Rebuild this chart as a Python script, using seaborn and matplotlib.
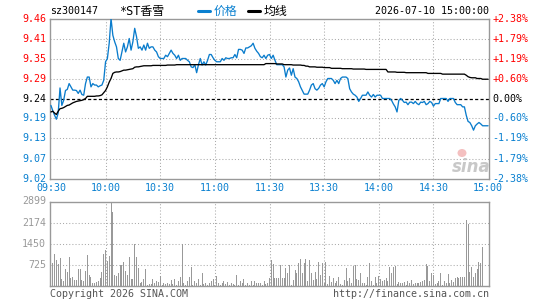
import numpy as np
import pandas as pd
import matplotlib
matplotlib.use("Agg")
import matplotlib.pyplot as plt
import seaborn as sns
from matplotlib.lines import Line2D
from matplotlib.patches import Ellipse
from matplotlib.transforms import blended_transform_factory

# ---------------- data ----------------
prev_close = 9.24
stock_code = "sz300147"
stock_name = "*ST香雪"
timestamp = "2026-07-10 15:00:00"

price = [
    9.221, 9.207, 9.194, 9.183, 9.200, 9.269, 9.221, 9.235, 9.262, 9.265,
    9.281, 9.272, 9.263, 9.263, 9.262, 9.254, 9.263, 9.251, 9.249, 9.281,
    9.299, 9.299, 9.272, 9.281, 9.277, 9.277, 9.272, 9.275, 9.277, 9.290,
    9.341, 9.350, 9.392, 9.460, 9.414, 9.396, 9.382, 9.350, 9.345, 9.368,
    9.392, 9.368, 9.382, 9.405, 9.373, 9.396, 9.433, 9.410, 9.378, 9.382,
    9.373, 9.387, 9.373, 9.392, 9.378, 9.382, 9.382, 9.373, 9.368, 9.355,
    9.350, 9.350, 9.350, 9.359, 9.355, 9.364, 9.373, 9.364, 9.359, 9.350,
    9.359, 9.345, 9.350, 9.350, 9.350, 9.345, 9.341, 9.327, 9.325, 9.333,
    9.311, 9.333, 9.350, 9.332, 9.341, 9.332, 9.345, 9.361, 9.361, 9.352,
    9.345, 9.341, 9.341, 9.341, 9.350, 9.345, 9.352, 9.350, 9.350, 9.352,
    9.352, 9.361, 9.352, 9.375, 9.375, 9.373, 9.364, 9.379, 9.379, 9.382,
    9.385, 9.392, 9.378, 9.370, 9.364, 9.355, 9.352, 9.359, 9.350, 9.359,
    9.361, 9.350, 9.359, 9.345, 9.333, 9.333, 9.333, 9.333, 9.327, 9.299,
    9.318, 9.324, 9.304, 9.322, 9.299, 9.295, 9.286, 9.272, 9.262, 9.252,
    9.252, 9.252, 9.263, 9.277, 9.281, 9.267, 9.263, 9.268, 9.277, 9.281,
    9.272, 9.286, 9.295, 9.295, 9.295, 9.290, 9.281, 9.290, 9.281, 9.295,
    9.299, 9.299, 9.299, 9.295, 9.267, 9.258, 9.252, 9.249, 9.244, 9.232,
    9.240, 9.249, 9.249, 9.249, 9.258, 9.249, 9.244, 9.251, 9.244, 9.249,
    9.249, 9.249, 9.240, 9.240, 9.240, 9.240, 9.240, 9.235, 9.225, 9.217,
    9.203, 9.235, 9.240, 9.235, 9.229, 9.230, 9.223, 9.230, 9.230, 9.226,
    9.232, 9.226, 9.223, 9.230, 9.229, 9.232, 9.223, 9.226, 9.232, 9.229,
    9.219, 9.226, 9.226, 9.226, 9.240, 9.240, 9.240, 9.240, 9.232, 9.240,
    9.240, 9.240, 9.229, 9.223, 9.223, 9.223, 9.217, 9.217, 9.194, 9.177,
    9.174, 9.165, 9.153, 9.165, 9.170, 9.174, 9.170, 9.165, 9.165, 9.165,
    9.165,
]

avg = [
    9.203, 9.205, 9.200, 9.196, 9.205, 9.212, 9.213, 9.215, 9.218, 9.221,
    9.222, 9.225, 9.228, 9.230, 9.232, 9.233, 9.234, 9.235, 9.237, 9.240,
    9.246, 9.246, 9.246, 9.246, 9.246, 9.247, 9.247, 9.248, 9.250, 9.256,
    9.262, 9.272, 9.285, 9.295, 9.309, 9.312, 9.313, 9.313, 9.314, 9.316,
    9.318, 9.318, 9.319, 9.320, 9.321, 9.322, 9.326, 9.327, 9.327, 9.328,
    9.329, 9.330, 9.330, 9.330, 9.330, 9.330, 9.331, 9.331, 9.331, 9.331,
    9.331, 9.331, 9.331, 9.331, 9.332, 9.332, 9.332, 9.332, 9.332, 9.333,
    9.333, 9.333, 9.333, 9.333, 9.333, 9.333, 9.333, 9.333, 9.333, 9.333,
    9.333, 9.333, 9.333, 9.333, 9.333, 9.333, 9.333, 9.333, 9.333, 9.333,
    9.333, 9.333, 9.333, 9.333, 9.333, 9.333, 9.333, 9.333, 9.333, 9.333,
    9.333, 9.333, 9.333, 9.333, 9.333, 9.333, 9.333, 9.333, 9.333, 9.333,
    9.333, 9.333, 9.333, 9.333, 9.333, 9.333, 9.333, 9.333, 9.336, 9.336,
    9.336, 9.336, 9.336, 9.336, 9.335, 9.335, 9.335, 9.335, 9.333, 9.333,
    9.333, 9.333, 9.333, 9.332, 9.332, 9.332, 9.332, 9.332, 9.331, 9.331,
    9.329, 9.329, 9.327, 9.327, 9.327, 9.327, 9.326, 9.326, 9.326, 9.326,
    9.325, 9.325, 9.325, 9.325, 9.323, 9.323, 9.323, 9.323, 9.323, 9.323,
    9.322, 9.322, 9.322, 9.322, 9.322, 9.322, 9.321, 9.321, 9.321, 9.321,
    9.321, 9.321, 9.321, 9.320, 9.320, 9.320, 9.320, 9.320, 9.320, 9.320,
    9.320, 9.320, 9.320, 9.320, 9.320, 9.313, 9.313, 9.313, 9.313, 9.313,
    9.312, 9.312, 9.312, 9.312, 9.312, 9.311, 9.311, 9.311, 9.311, 9.311,
    9.311, 9.311, 9.311, 9.311, 9.311, 9.311, 9.311, 9.309, 9.309, 9.309,
    9.309, 9.309, 9.309, 9.309, 9.309, 9.307, 9.307, 9.307, 9.307, 9.307,
    9.307, 9.307, 9.307, 9.307, 9.307, 9.307, 9.307, 9.307, 9.304, 9.300,
    9.298, 9.297, 9.297, 9.297, 9.295, 9.295, 9.295, 9.293, 9.293, 9.293,
    9.293,
]

volume = [
    368, 782, 1092, 897, 747, 966, 230, 172, 575, 483,
    1000, 276, 322, 195, 195, 575, 575, 207, 172, 517,
    1058, 368, 322, 92, 115, 138, 161, 287, 483, 1092,
    1242, 862, 1035, 2899, 2530, 368, 345, 437, 713, 713,
    828, 517, 368, 1012, 230, 253, 1437, 1012, 632, 115,
    138, 230, 598, 46, 69, 69, 230, 92, 172, 138,
    345, 46, 92, 58, 115, 69, 207, 69, 230, 46,
    172, 322, 1437, 115, 46, 172, 322, 655, 46, 172,
    115, 253, 46, 437, 58, 115, 46, 115, 172, 253,
    46, 345, 115, 46, 92, 161, 69, 138, 46, 115,
    69, 46, 368, 46, 172, 115, 253, 46, 115, 46,
    172, 46, 172, 92, 115, 115, 46, 172, 69, 115,
    287,
    897, 747, 287, 287, 287, 713, 287, 287, 632, 437,
    713, 46, 207, 552, 437, 782, 920, 437, 782, 943,
    172, 897, 437, 207, 483, 230, 828, 368, 782, 115,
    828, 69, 345, 138, 276, 115, 161, 322, 69, 46,
    207, 632, 172, 276, 115, 690, 713, 253, 207, 437,
    92, 115, 46, 322, 782, 172, 46, 322, 115, 345,
    230, 172, 207, 287, 172, 667, 437, 667, 690, 69,
    138, 115, 92, 138, 46, 172, 115, 207, 69, 92,
    92, 104, 138, 172, 207, 747, 690, 184, 437, 368,
    69, 115, 172, 437, 46, 172, 115, 402, 92, 207,
    138, 287, 322, 276, 322, 322, 322, 2277, 2127, 483,
    655, 322, 437, 575, 828, 805, 1322, 0, 0, 0,
]

time_ticks = [0, 30, 60, 90, 120, 150, 180, 210, 240]
time_labels = ["09:30", "10:00", "10:30", "11:00", "11:30",
               "13:30", "14:00", "14:30", "15:00"]
price_ticks = [9.46, 9.405, 9.35, 9.295, 9.24, 9.185, 9.13, 9.075, 9.02]
price_labels = ["9.46", "9.41", "9.35", "9.29", "9.24", "9.19", "9.13", "9.07", "9.02"]
pct_labels = ["+2.38%", "+1.79%", "+1.19%", "+0.60%", "0.00%",
              "-0.60%", "-1.19%", "-1.79%", "-2.38%"]
vol_ticks = [2899, 2174, 1450, 725]
vol_labels = ["2899", "2174", "1450", "725"]

# ---------------- style ----------------
sns.set_style("white")
plt.rcParams['font.family'] = ['DejaVu Sans Mono', 'Noto Sans CJK SC']

BLUE = "#0a80d0"
LINE_BLUE = "#0a7ccc"
RED = "#ff0000"
GRAY = "#999999"
GRID = "#aaaaaa"
FS = 7.2
CJK_FS = 8.6

W, H = 545, 300
fig = plt.figure(figsize=(W / 100, H / 100), dpi=100)
fig.patch.set_facecolor("white")


def box(l, t, r, b):
    return [l / W, 1 - b / H, (r - l) / W, (b - t) / H]


L, R = 50, 489
axp = fig.add_axes(box(L, 18.5, R, 178.5))
axv = fig.add_axes(box(L, 201.5, R, 286))

df = pd.DataFrame({"i": np.arange(len(price)), "price": price,
                   "avg": avg, "vol": volume})

# gridlines
for ax in (axp, axv):
    for t in time_ticks[1:-1]:
        ax.axvline(t, color=GRID, lw=0.75, ls=(0, (1, 2)), zorder=0)
for lv in price_ticks[1:-1]:
    if lv == prev_close:
        axp.axhline(lv, color="black", lw=0.9, ls=(0, (2.5, 1.8)), zorder=1)
    else:
        axp.axhline(lv, color=GRID, lw=0.75, ls=(0, (1, 2)), zorder=0)
for lv in vol_ticks[1:]:
    axv.axhline(lv, color=GRID, lw=0.75, ls=(0, (1, 2)), zorder=0)

# sina watermark (behind the lines)
fig.text(471 / W, 1 - 167 / H, "sina", ha="center", va="center",
         fontsize=12, fontweight="bold", style="italic", color="#c8c8c8",
         family="DejaVu Sans", zorder=0)
fig.add_artist(Ellipse((462 / W, 1 - 153 / H), 9 / W, 8 / H,
                       facecolor="#f4c0c0", edgecolor="none", zorder=0))
axp.patch.set_alpha(0)

# lines
sns.lineplot(data=df, x="i", y="price", ax=axp, color=LINE_BLUE,
             linewidth=0.95, zorder=3)
sns.lineplot(data=df, x="i", y="avg", ax=axp, color="black",
             linewidth=0.95, zorder=4)

# volume bars
sns.barplot(data=df, x="i", y="vol", ax=axv, color=GRAY, native_scale=True,
            width=0.55, saturation=1, linewidth=0, errorbar=None, zorder=2)

for ax in (axp, axv):
    ax.set_xlim(-0.5, 240.5)
    ax.set_xticks([])
    ax.set_yticks([])
    ax.set_xlabel("")
    ax.set_ylabel("")
    for s in ax.spines.values():
        s.set_color(GRAY)
        s.set_linewidth(1.0)
        s.set_visible(True)
axp.set_ylim(price_ticks[-1], price_ticks[0])
axv.set_ylim(0, vol_ticks[0])

# price / percent labels
tp = blended_transform_factory(axp.transAxes, axp.transData)
for lv, lab, pl in zip(price_ticks, price_labels, pct_labels):
    if lv > prev_close + 1e-9:
        c = RED
    elif lv < prev_close - 1e-9:
        c = BLUE
    else:
        c = "black"
    axp.text(-0.009, lv, lab, transform=tp, ha="right", va="center",
             color=c, fontsize=FS)
    axp.text(1.008, lv, pl, transform=tp, ha="left", va="center",
             color=c, fontsize=FS)

tv = blended_transform_factory(axv.transAxes, axv.transData)
for lv, lab in zip(vol_ticks, vol_labels):
    axv.text(-0.009, lv, lab, transform=tv, ha="right", va="center",
             color=GRAY, fontsize=FS)

# time labels
tt = blended_transform_factory(axp.transData, fig.transFigure)
for t, lab in zip(time_ticks, time_labels):
    axp.text(t, 1 - 188 / H, lab, transform=tt, ha="center", va="center",
             color=BLUE, fontsize=FS)

# header
yh = 1 - 11 / H
fig.text(L / W, yh, stock_code, ha="left", va="center", fontsize=FS, color="black")
fig.text(119 / W, yh, stock_name, ha="left", va="center", fontsize=CJK_FS, color="black")
fig.add_artist(Line2D([198 / W, 210 / W], [yh, yh], color=BLUE, lw=2.2))
fig.text(214 / W, yh, "价格", ha="left", va="center", fontsize=CJK_FS, color=BLUE)
fig.add_artist(Line2D([248 / W, 260 / W], [yh, yh], color="black", lw=2.2))
fig.text(264 / W, yh, "均线", ha="left", va="center", fontsize=CJK_FS, color="black")
fig.text(R / W, yh, timestamp, ha="right", va="center", fontsize=FS, color="black")

# footer
yf = 1 - 294 / H
fig.text(L / W, yf, "Copyright 2026 SINA.COM", ha="left", va="center",
         fontsize=FS, color="#555555")
fig.text(R / W, yf, "http://finance.sina.com.cn", ha="right", va="center",
         fontsize=FS, color="#555555")

fig.savefig("out.png", dpi=100, facecolor="white")
